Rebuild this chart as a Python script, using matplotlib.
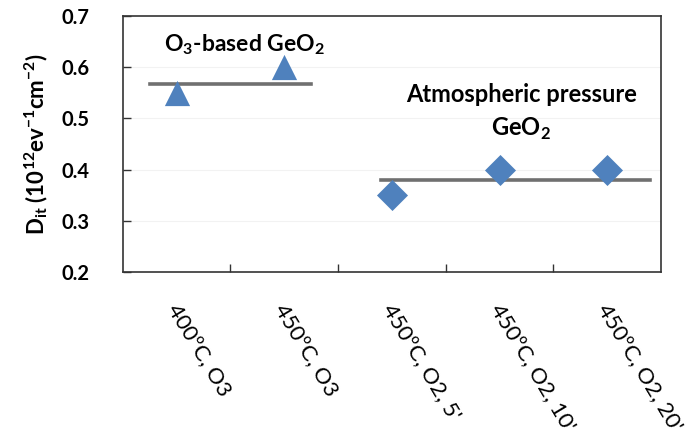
import matplotlib
matplotlib.use("Agg")
import matplotlib.pyplot as plt

plt.rcParams['font.family'] = ['Lato', 'DejaVu Sans']
plt.rcParams['mathtext.fontset'] = 'custom'
plt.rcParams['mathtext.rm'] = 'Lato'
plt.rcParams['mathtext.bf'] = 'Lato:bold'

categories = ["400ºC, O3", "450ºC, O3", "450ºC, O2, 5'", "450ºC, O2, 10'", "450ºC, O2, 20'"]
o3_x = [0, 1]
o3_vals = [0.55, 0.60]
atm_x = [2, 3, 4]
atm_vals = [0.35, 0.40, 0.40]
o3_mean = 0.567
atm_mean = 0.38
y_ticks = [0.2, 0.3, 0.4, 0.5, 0.6, 0.7]

fig = plt.figure(figsize=(6.98, 4.43), dpi=100)
ax = fig.add_axes([0.176, 0.386, 0.771, 0.578])

for y in y_ticks[1:-1]:
    ax.axhline(y, color='#f2f2f2', lw=0.8, zorder=0)

ax.plot([-0.25, 1.25], [o3_mean, o3_mean], color='#707070', lw=2.6, zorder=2)
ax.plot([1.9, 4.4], [atm_mean, atm_mean], color='#707070', lw=2.6, zorder=2)
ax.scatter(o3_x, o3_vals, marker='^', s=330, color='#4F81BD', zorder=3, linewidths=0)
ax.scatter(atm_x, atm_vals, marker='D', s=250, color='#4F81BD', zorder=3, linewidths=0)

ax.set_xlim(-0.5, 4.5)
ax.set_ylim(0.2, 0.7)
ax.set_yticks(y_ticks)
ax.set_yticklabels([f"{v:.1f}" for v in y_ticks], fontsize=14.5, fontweight='bold')
ax.tick_params(axis='y', direction='in', length=6, width=1, pad=24, colors='#333333', labelcolor='black')

ax.set_xticks([0.5, 1.5, 2.5, 3.5])
ax.set_xticklabels([])
ax.tick_params(axis='x', direction='in', length=6, width=1, colors='#333333')

for i, lab in enumerate(categories):
    ax.annotate(lab, xy=(i, 0.2), xycoords='data', xytext=(-3, -24), textcoords='offset points',
                rotation=-59, rotation_mode='anchor', ha='left', va='center', fontsize=16)

for sp in ax.spines.values():
    sp.set_color('#333333')
    sp.set_linewidth(1.2)

ax.set_ylabel(r"$\mathbf{D_{it}}$ (10$^{\mathbf{12}}$ev$^{\mathbf{-1}}$cm$^{\mathbf{-2}}$)", fontsize=16, fontweight='bold', labelpad=8)

ax.text(0.63, 0.644, r"O$_\mathbf{3}$-based GeO$_\mathbf{2}$", ha='center', va='center', fontsize=16.5, fontweight='bold')
ax.text(3.2, 0.546, "Atmospheric pressure", ha='center', va='center', fontsize=17, fontweight='bold')
ax.text(3.2, 0.48, r"GeO$_\mathbf{2}$", ha='center', va='center', fontsize=17, fontweight='bold')

fig.savefig("out.png", dpi=100)
